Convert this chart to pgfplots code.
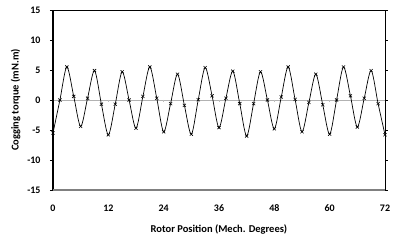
\documentclass[border=0pt]{standalone}
\usepackage{pgfplots}
\pgfplotsset{compat=1.18}
\usepackage{fontspec}
\setmainfont{Carlito}
\pgfplotstableread{
x y
0 -5.5
1.5 0
3 5.5
4.5 0.6
6 -4.4
7.5 0.3
9 4.9
10.5 -0.7
12 -5.8
13.5 -0.7
15 4.7
16.5 0
18 -4.7
19.5 0.6
21 5.5
22.5 0.3
24 -5.3
25.5 -0.6
27 4.3
28.5 -0.9
30 -5.7
31.5 0.05
33 5.4
34.5 0.7
36 -4.6
37.5 0.3
39 4.8
40.5 -0.6
42 -6.0
43.5 -0.6
45 4.7
46.5 0
48 -4.8
49.5 0.5
51 5.5
52.5 0.1
54 -5.3
55.5 -0.4
57 4.3
58.5 -0.8
60 -5.7
61.5 0
63 5.5
64.5 0.7
66 -4.5
67.5 0.3
69 4.9
70.5 -0.6
72 -5.8
}\datatable
\begin{document}
\begin{tikzpicture}
\useasboundingbox (0,0) rectangle (399pt,243pt);
\begin{axis}[
  at={(53pt,53pt)}, anchor=south west,
  scale only axis, width=332pt, height=180pt,
  xmin=0, xmax=72, ymin=-15, ymax=15,
  xtick={0,12,...,72}, xticklabels={0,12,24,36,48,60,72},
  ytick={-15,-10,...,15}, yticklabels={-15,-10,-5,0,5,10,15},
  tick label style={font=\fontsize{10}{12}\selectfont\bfseries},
  xtick style={draw=none},
  ytick style={black, line width=0.6pt},
  tick align=outside, major tick length=3pt,
  xticklabel style={yshift=-8pt},
  yticklabel style={xshift=-6pt},
  axis line style={draw=none},
  xlabel={Rotor Position (Mech. Degrees)},
  ylabel={Cogging torque (mN.m)},
  label style={font=\fontsize{10.5}{12}\selectfont\bfseries},
  xlabel style={at={(0.5,0)}, yshift=-31pt, anchor=north},
  ylabel style={yshift=0pt},
  clip=false,
]
\draw[gray!60, line width=0.8pt] (axis cs:0,0) -- (axis cs:72,0);
\draw[gray!50, line width=0.6pt] (axis cs:12,0) -- (axis cs:12,-0.4);
\draw[gray!50, line width=0.6pt] (axis cs:24,0) -- (axis cs:24,-0.4);
\draw[gray!50, line width=0.6pt] (axis cs:36,0) -- (axis cs:36,-0.4);
\draw[gray!50, line width=0.6pt] (axis cs:48,0) -- (axis cs:48,-0.4);
\draw[gray!50, line width=0.6pt] (axis cs:60,0) -- (axis cs:60,-0.4);
\addplot[black, line width=0.7pt, smooth, mark=x, mark size=2.2pt, mark options={line width=0.6pt}] table[x=x,y=y] {\datatable};
\draw[black, line width=0.6pt] (rel axis cs:0,1) -- (rel axis cs:1,1) -- (rel axis cs:1,0);
\draw[black, line width=1.2pt] (rel axis cs:0,0) -- (rel axis cs:0,1);
\draw[gray, line width=2pt] (rel axis cs:0,0) -- (rel axis cs:1,0);
\end{axis}
\end{tikzpicture}
\end{document}
